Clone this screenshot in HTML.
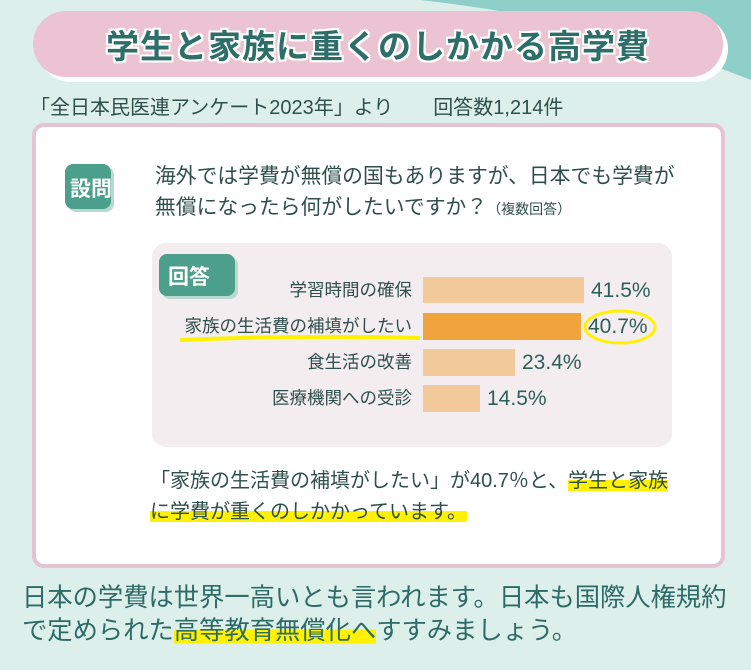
<!DOCTYPE html>
<html><head><meta charset="utf-8"><style>
*{margin:0;padding:0;box-sizing:border-box}
body{width:751px;height:670px;overflow:hidden;background:#ddefeb;position:relative;font-family:"Liberation Sans","Noto Sans CJK JP",sans-serif;color:#2f5f5a}
.a{position:absolute;white-space:nowrap}
.hl{background:linear-gradient(transparent 45%,#fff100 45%,#fff100 95%,transparent 95%)}
.lb{position:absolute;right:339px;font-size:17.5px;line-height:20px;color:#2f4f4c;white-space:nowrap}
.v{position:absolute;font-size:21px;line-height:24px;color:#2f5f5a}
</style></head><body>
<svg class="a" style="left:0;top:0" width="751" height="670">
<path d="M420 0 L751 0 L751 80 Q600 20 420 0Z" fill="#8fcfc9"/>
<rect x="38" y="16" width="690" height="66" rx="33" fill="#fff"/>
<rect x="33" y="11" width="690" height="66" rx="33" fill="#ebc3d2"/>
<rect x="34" y="125" width="689" height="441" rx="10" fill="#fff" stroke="#e6c3d1" stroke-width="4"/>
<rect x="152" y="243" width="520" height="204" rx="14" fill="#f3edef"/>
<rect x="68" y="167" width="46" height="45" rx="8" fill="#b9d9d0"/>
<rect x="65" y="164" width="46" height="45" rx="8" fill="#4c9f8b"/>
<rect x="162" y="257" width="76" height="42" rx="8" fill="#b9d9d0"/>
<rect x="159" y="254" width="76" height="42" rx="8" fill="#4c9f8b"/>
<rect x="423" y="277" width="161" height="26" fill="#f1c99b"/>
<rect x="423" y="313" width="158" height="27" fill="#efa43c"/>
<rect x="423" y="349" width="92" height="27" fill="#f1c99b"/>
<rect x="423" y="385" width="57" height="27" fill="#f1c99b"/>
<path d="M180 340 Q300 335 420 338" stroke="#fff100" stroke-width="4" fill="none"/>
<ellipse cx="620" cy="327" rx="35" ry="16" stroke="#fff100" stroke-width="3" fill="none"/>
</svg>
<div class="a" style="left:33px;top:20px;width:690px;text-align:center;font-size:33px;font-weight:bold;color:#2d6e68;text-shadow:2px 0 #fff,-2px 0 #fff,0 2px #fff,0 -2px #fff,2px 2px #fff,-2px -2px #fff,2px -2px #fff,-2px 2px #fff;letter-spacing:1px">学生と家族に重くのしかかる高学費</div>
<div class="a" style="left:30px;top:91px;font-size:20px;color:#2f4f4c">「全日本民医連アンケート2023年」より　　回答数1,214件</div>
<div class="a" style="left:70px;top:173px;font-size:21px;font-weight:bold;color:#fff">設問</div>
<div class="a" style="left:155px;top:161px;font-size:20.8px;line-height:31px;color:#2f4f4c">海外では学費が無償の国もありますが、日本でも学費が<br>無償になったら何がしたいですか？<span style="font-size:14px">（複数回答）</span></div>
<div class="a" style="left:168px;top:261px;font-size:21px;font-weight:bold;color:#fff">回答</div>
<div class="lb" style="top:280px">学習時間の確保</div>
<div class="lb" style="top:316px">家族の生活費の補填がしたい</div>
<div class="lb" style="top:352px">食生活の改善</div>
<div class="lb" style="top:388px">医療機関への受診</div>
<div class="v" style="left:591px;top:279px">41.5%</div>
<div class="v" style="left:588px;top:315px">40.7%</div>
<div class="v" style="left:522px;top:351px">23.4%</div>
<div class="v" style="left:487px;top:387px">14.5%</div>
<div class="a" style="left:150px;top:466px;font-size:20px;line-height:31px;color:#2f4f4c">「家族の生活費の補填がしたい」が40.7％と、<span class="hl">学生と家族</span><br><span class="hl">に学費が重くのしかかっています。</span></div>
<div class="a" style="left:22px;top:582px;font-size:25.3px;line-height:33px;color:#2d6b66">日本の学費は世界一高いとも言われます。日本も国際人権規約<br>で定められた<span class="hl">高等教育無償化へ</span>すすみましょう。</div>
</body></html>
